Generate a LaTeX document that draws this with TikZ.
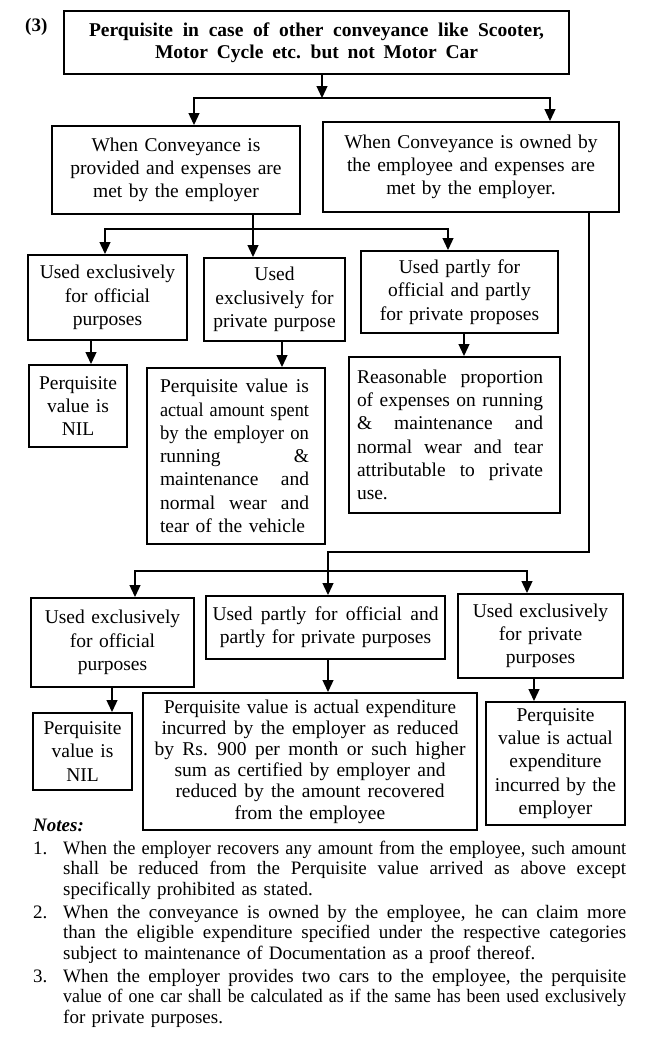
\documentclass[tikz,border=0pt]{standalone}
\usepackage{fontspec}
\setmainfont{Liberation Serif}
\usepackage{graphicx}
\usetikzlibrary{arrows.meta}
\newsavebox\jlbox
\newcommand\jl[2]{\leavevmode\sbox\jlbox{#2}\ifdim\wd\jlbox>#1\relax\resizebox{#1}{\ht\jlbox}{#2}\else\hbox to #1{\spaceskip=0.25em plus 1fil\xspaceskip=0.3em plus 1fil\relax #2}\fi}
\newcommand\bxfont{\fontsize{19.5}{23.3}\selectfont}
\newcommand\ntfont{\fontsize{19}{20.7}\selectfont}
\tikzset{
  box/.style={draw, line width=2pt, inner sep=0pt, font=\bxfont, align=center},
  bx/.style n args={3}{box, minimum width=#1, minimum height=#2, text width=#3},
  conn/.style={line width=1.3pt},
  arr/.style={conn, -{Triangle[width=11pt,length=12pt]}},
  note/.style={anchor=base west, inner sep=0pt, font=\ntfont, align=left, text width=563pt}
}
\begin{document}
\begin{tikzpicture}[x=1pt,y=-1pt]
\fill[white] (0,0) rectangle (645,1039);
\useasboundingbox (0,0) rectangle (645,1039);

\node[anchor=base west, inner sep=0pt, font=\fontsize{19}{22}\selectfont\bfseries] (num) at (25,31) {(3)};

\node[bx={505pt}{63pt}{495pt}, font=\fontsize{19.5}{22}\selectfont\bfseries] (title) at (316.5,42.5)
  {\jl{455pt}{Perquisite in case of other conveyance like Scooter,}\\\jl{323pt}{Motor Cycle etc. but not Motor Car}};

\node[bx={248pt}{88pt}{242pt}] (A) at (176,170) {When Conveyance is\\provided and expenses are\\met by the employer};
\node[bx={296pt}{90pt}{290pt}] (B) at (471,167) {When Conveyance is owned by\\the employee and expenses are\\met by the employer.};

\node[bx={159pt}{85pt}{153pt}] (C1) at (107.5,297.5) {Used exclusively\\for official\\purposes};
\node[bx={141pt}{83pt}{137pt}] (C2) at (274.5,299.5) {Used\\exclusively for\\private purpose};
\node[bx={197pt}{82pt}{191pt}] (C3) at (459.5,292) {Used partly for\\official and partly\\for private proposes};

\node[bx={98pt}{82pt}{94pt}] (D1) at (78,406) {Perquisite\\value is\\NIL};
\node[bx={178pt}{176pt}{152pt}, align=left] (D2) at (236,456)
  {\jl{149pt}{Perquisite value is}\\\jl{149pt}{actual amount spent}\\\jl{149pt}{by the employer on}\\\jl{149pt}{running \&}\\\jl{149pt}{maintenance and}\\\jl{149pt}{normal wear and}\\tear of the vehicle};
\node[bx={211pt}{156pt}{195pt}, align=left] (D3) at (454.5,435)
  {\jl{186pt}{Reasonable proportion}\\\jl{186pt}{of expenses on running}\\\jl{186pt}{\& maintenance and}\\\jl{186pt}{normal wear and tear}\\\jl{186pt}{attributable to private}\\use.};

\node[bx={163pt}{89pt}{157pt}] (E1) at (112.5,642.5) {Used exclusively\\for official\\purposes};
\node[bx={239pt}{63pt}{235pt}] (E2) at (325.5,627.5) {\jl{226pt}{Used partly for official and}\\partly for private purposes};
\node[bx={165pt}{84pt}{159pt}] (E3) at (540.5,636) {Used exclusively\\for private\\purposes};

\node[bx={99pt}{77pt}{95pt}] (F1) at (82.5,751.5) {Perquisite\\value is\\NIL};
\node[bx={334pt}{137pt}{326pt}, font=\fontsize{19.5}{21.2}\selectfont] (F2) at (310,761.5)
  {\jl{292pt}{Perquisite value is actual expenditure}\\\jl{297pt}{incurred by the employer as reduced}\\\jl{311pt}{by Rs. 900 per month or such higher}\\\jl{271pt}{sum as certified by employer and}\\\jl{269pt}{reduced by the amount recovered}\\from the employee};
\node[bx={139pt}{123pt}{135pt}] (F3) at (555.5,763.5) {Perquisite\\value is actual\\expenditure\\incurred by the\\employer};

% connectors
\coordinate (t1) at (322,98);
\coordinate (t1L) at (194,98);
\coordinate (t1R) at (550,98);
\draw[arr] (title.south -| t1) -- (t1);
\draw[arr] (t1) -| (A.north -| t1L);
\draw[arr] (t1) -| (B.north -| t1R);

\coordinate (a1) at (253,229);
\coordinate (c1x) at (105,0);
\coordinate (c3x) at (448,0);
\draw[arr] (A.south -| a1) -- (C2.north -| a1);
\draw[arr] (a1) -| (C1.north -| c1x);
\draw[arr] (a1) -| (C3.north -| c3x);

\coordinate (d1x) at (91,0);
\coordinate (d2x) at (282,0);
\coordinate (d3x) at (464,0);
\draw[arr] (C1.south -| d1x) -- (D1.north -| d1x);
\draw[arr] (C2.south -| d2x) -- (D2.north -| d2x);
\draw[arr] (C3.south -| d3x) -- (D3.north -| d3x);

\coordinate (b1) at (589,552);
\coordinate (b2) at (328,552);
\coordinate (e0) at (328,571);
\coordinate (e1x) at (135,0);
\coordinate (e3x) at (527,0);
\draw[arr] (B.south -| b1) -- (b1) -- (b2) -- (E2.north -| b2);
\draw[arr] (e0) -| (E1.north -| e1x);
\draw[arr] (e0) -| (E3.north -| e3x);

\coordinate (f1x) at (112,0);
\coordinate (f2x) at (328,0);
\coordinate (f3x) at (534,0);
\draw[arr] (E1.south -| f1x) -- (F1.north -| f1x);
\draw[arr] (E2.south -| f2x) -- (F2.north -| f2x);
\draw[arr] (E3.south -| f3x) -- (F3.north -| f3x);

% notes
\node[anchor=base west, inner sep=0pt, font=\fontsize{19}{22}\selectfont\bfseries\itshape] (notes) at (33,831) {Notes:};
\node[anchor=base west, inner sep=0pt, font=\ntfont] (k1) at (33,854) {1.};
\node[note] (n1) at (63,854) {\jl{563pt}{When the employer recovers any amount from the employee, such amount}\\\jl{563pt}{shall be reduced from the Perquisite value arrived as above except}\\specifically prohibited as stated.};
\node[anchor=base west, inner sep=0pt, font=\ntfont] (k2) at (33,918) {2.};
\node[note] (n2) at (63,918) {\jl{563pt}{When the conveyance is owned by the employee, he can claim more}\\\jl{563pt}{than the eligible expenditure specified under the respective categories}\\subject to maintenance of Documentation as a proof thereof.};
\node[anchor=base west, inner sep=0pt, font=\ntfont] (k3) at (33,982) {3.};
\node[note] (n3) at (63,982) {\jl{563pt}{When the employer provides two cars to the employee, the perquisite}\\\jl{563pt}{value of one car shall be calculated as if the same has been used exclusively}\\for private purposes.};
\end{tikzpicture}
\end{document}
